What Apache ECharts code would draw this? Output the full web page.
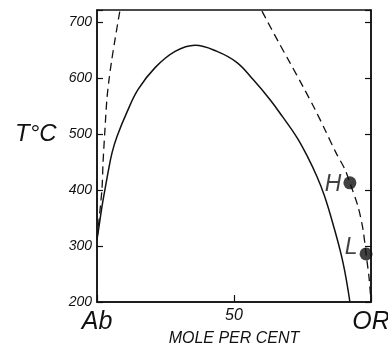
<!DOCTYPE html>
<html><head><meta charset="utf-8">
<script src="https://cdn.jsdelivr.net/npm/echarts@6/dist/echarts.min.js"></script>
<style>html,body{margin:0;padding:0;background:#fff}#c{width:388px;height:350px}</style>
</head><body><div id="c"></div>
<script>
// Solvus (solid) – [mole per cent Or, T °C]
const solvusX = [0, 0.7, 1.8, 2.9, 4.0, 5.5, 7.3, 10.9, 15.0, 21.2, 28.5, 35.8, 43.8, 51.1, 56.9, 63.1, 67.9, 73.0, 76.6, 80.3, 83.0, 86.1, 89.8, 92.3];
const solvusT = [312, 334, 370, 401, 431, 467, 496, 539, 580, 619, 648, 659, 648, 628, 598, 562, 530, 494, 462, 424, 390, 340, 270, 200];
// Left dashed curve
const leftDashX = [0, 1.8, 2.2, 2.9, 3.6, 4.4, 5.3, 6.6, 8.4];
const leftDashT = [312, 401, 449, 508, 562, 598, 630, 670, 722];
// Right dashed curve
const rightDashX = [60.2, 66.1, 70.4, 75.2, 79.6, 83.2, 87.2, 90.5, 92.3, 95.3, 97.1, 98.2, 99.3, 100];
const rightDashT = [720, 666, 628, 585, 544, 508, 467, 437, 413, 370, 329, 286, 243, 200];
// Points H and L
const pointNames = ['H', 'L'];
const pointX = [92.3, 98.2];
const pointT = [413, 286];
// Axes
const xTickLabels = {0: 'Ab', 50: '50', 100: 'OR'};
const yMin = 200, yMax = 722, yStep = 100;

const zip = (a, b) => a.map((v, i) => [v, b[i]]);
const ink = '#111';
const font = 'Liberation Sans, Arial, sans-serif';

const chart = echarts.init(document.getElementById('c'));
chart.setOption({
  animation: false,
  grid: {left: 97, right: 17, top: 10, bottom: 48, show: true, borderColor: ink, borderWidth: 1.5,
    containLabel: false, outerBoundsMode: 'none'},
  xAxis: {
    type: 'value', min: 0, max: 100, interval: 50,
    name: 'MOLE PER CENT', nameLocation: 'middle', nameGap: 29, nameMoveOverlap: false,
    nameTextStyle: {fontFamily: font, fontStyle: 'italic', fontSize: 16, color: ink},
    axisLine: {lineStyle: {color: ink, width: 1.5}},
    axisTick: {inside: true, length: 7, lineStyle: {color: ink, width: 1.2}},
    splitLine: {show: false},
    axisLabel: {
      margin: 6,
      formatter: v => {
        const t = xTickLabels[v];
        if (!t) return '';
        return v === 50 ? '{n|' + t + '}' : '{b|' + t + '}';
      },
      rich: {
        n: {fontFamily: font, fontStyle: 'italic', fontSize: 16, color: ink},
        b: {fontFamily: font, fontStyle: 'italic', fontSize: 25, color: ink, padding: [2, 0, 0, 0]}
      }
    }
  },
  yAxis: [{
    type: 'value', min: yMin, max: yMax, interval: yStep,
    axisLine: {show: true, lineStyle: {color: ink, width: 1.5}},
    axisTick: {inside: true, length: 6, lineStyle: {color: ink, width: 1.2}},
    splitLine: {show: false},
    axisLabel: {margin: 5, fontFamily: font, fontStyle: 'italic', fontSize: 14, color: ink,
      formatter: v => (v % 100 === 0 ? String(v) : '')}
  }, {
    type: 'value', min: yMin, max: yMax, interval: yStep, position: 'right',
    axisLine: {show: true, lineStyle: {color: ink, width: 1.5}},
    axisTick: {inside: true, length: 6, lineStyle: {color: ink, width: 1.2}},
    splitLine: {show: false},
    axisLabel: {show: false}
  }],
  graphic: [{
    type: 'text', left: 15, top: 122,
    style: {text: 'T°C', fontFamily: font, fontStyle: 'italic', fontSize: 24, fill: ink}
  }],
  series: [
    {type: 'line', data: zip(solvusX, solvusT), smooth: 0.4, showSymbol: false,
     lineStyle: {color: ink, width: 1.5}},
    {type: 'line', data: zip(leftDashX, leftDashT), smooth: 0.3, showSymbol: false,
     lineStyle: {color: ink, width: 1.3, type: [8, 5]}},
    {type: 'line', data: zip(rightDashX, rightDashT), smooth: 0.3, showSymbol: false,
     lineStyle: {color: ink, width: 1.3, type: [8, 5]}},
    {type: 'scatter', symbolSize: 13, itemStyle: {color: ink},
     data: pointNames.map((n, i) => ({
       name: n, value: [pointX[i], pointT[i]],
       label: {show: true, position: 'left', distance: 2, formatter: n,
         offset: i === 0 ? [0, 2] : [0, -6],
         fontFamily: font, fontStyle: 'italic', fontSize: 23, color: ink}
     }))}
  ]
});
</script></body></html>
